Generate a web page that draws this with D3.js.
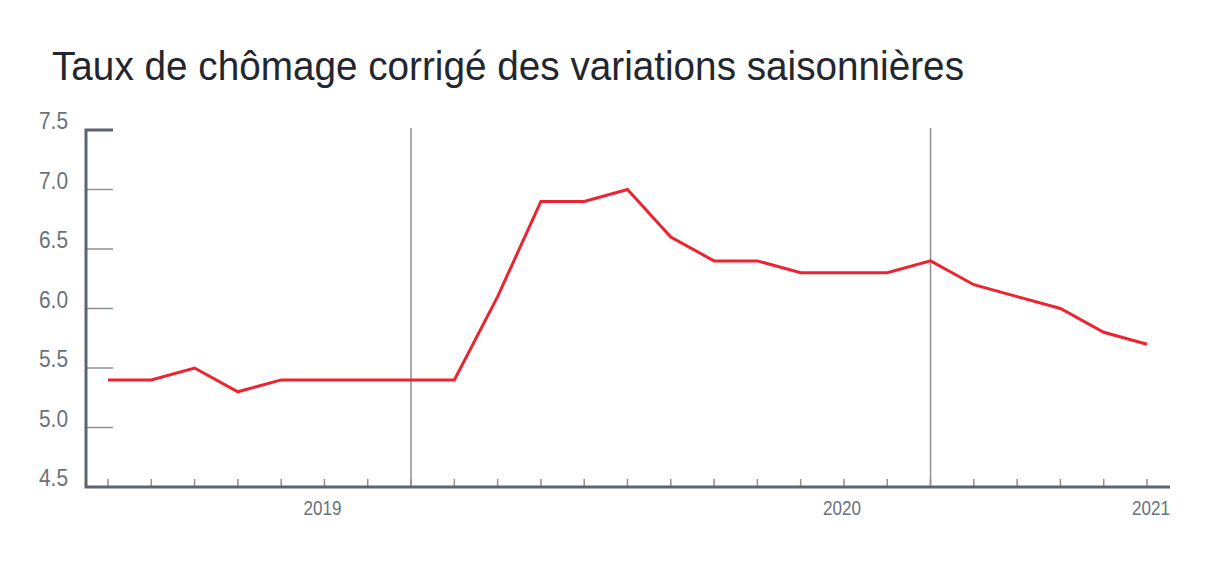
<!DOCTYPE html>
<html>
<head>
<meta charset="utf-8">
<script src="https://cdn.jsdelivr.net/npm/d3@7"></script>
<style>
    body { margin: 0; background: #fff; }
    svg { display: block; font-family: "Liberation Sans", Arial, sans-serif; }
</style>
</head>
<body>
<svg id="chart" width="1224" height="576"></svg>
<script>
// Data (monthly, seasonally adjusted rate)
const periods = d3.range(25).map(i => `p${i}`);
const rates = [5.4, 5.4, 5.5, 5.3, 5.4, 5.4, 5.4, 5.4, 5.4, 6.1, 6.9, 6.9, 7.0,
               6.6, 6.4, 6.4, 6.3, 6.3, 6.3, 6.4, 6.2, 6.1, 6.0, 5.8, 5.7];
const periodLabels = ['', '', '', '', '', '2019', '', '', '', '', '', '', '',
                      '', '', '', '', '2020', '', '', '', '', '', '', '2021'];
const separators = ['p7', 'p19'];
const yTicks = [4.5, 5.0, 5.5, 6.0, 6.5, 7.0, 7.5];
const title = 'Taux de chômage corrigé des variations saisonnières';

const svg = d3.select('#chart');

const axisLeftX = 86;
const axisRightX = 1170;
const axisBottomY = 487;

const x = d3.scalePoint().domain(periods).range([108, 1147]);
const y = d3.scaleLinear().domain([4.5, 7.5]).range([axisBottomY, 130]);

// Title (slightly condensed like the source)
svg.append('text')
    .attr('x', 52)
    .attr('y', 80)
    .attr('font-size', 41)
    .attr('fill', '#23262e')
    .attr('textLength', 912)
    .attr('lengthAdjust', 'spacingAndGlyphs')
    .text(title);

// Y tick marks (inner, short)
svg.append('g')
    .selectAll('line')
    .data(yTicks.filter(d => d > 4.5 && d < 7.5))
    .enter()
    .append('line')
    .attr('x1', axisLeftX)
    .attr('x2', axisLeftX + 27)
    .attr('y1', d => y(d))
    .attr('y2', d => y(d))
    .attr('stroke', '#8c9299')
    .attr('stroke-width', 1.5);

// Y labels
svg.append('g')
    .selectAll('text')
    .data(yTicks)
    .enter()
    .append('text')
    .attr('x', 68)
    .attr('y', d => y(d) - 1)
    .attr('text-anchor', 'end')
    .attr('font-size', 23.5)
    .attr('textLength', 29)
    .attr('lengthAdjust', 'spacingAndGlyphs')
    .attr('fill', '#6a727c')
    .text(d => d.toFixed(1));

// Separator lines
svg.append('g')
    .selectAll('line')
    .data(separators)
    .enter()
    .append('line')
    .attr('x1', d => x(d))
    .attr('x2', d => x(d))
    .attr('y1', 128)
    .attr('y2', axisBottomY)
    .attr('stroke', '#8c9197')
    .attr('stroke-width', 1.5);

// X tick marks
svg.append('g')
    .selectAll('line')
    .data(periods)
    .enter()
    .append('line')
    .attr('x1', d => x(d))
    .attr('x2', d => x(d))
    .attr('y1', axisBottomY - 8)
    .attr('y2', axisBottomY)
    .attr('stroke', '#8c9299')
    .attr('stroke-width', 1.5);

// X labels
svg.append('g')
    .selectAll('text')
    .data(periods.filter((p, i) => periodLabels[i]))
    .enter()
    .append('text')
    .attr('x', d => {
        const i = periods.indexOf(d);
        return i === periods.length - 1 ? axisRightX : x(d) - 2;
    })
    .attr('y', 515)
    .attr('text-anchor', d => periods.indexOf(d) === periods.length - 1 ? 'end' : 'middle')
    .attr('font-size', 20)
    .attr('textLength', 38)
    .attr('lengthAdjust', 'spacingAndGlyphs')
    .attr('fill', '#6a727c')
    .text(d => periodLabels[periods.indexOf(d)]);

// Axis frame: left axis with top cap, bottom axis
svg.append('path')
    .attr('d', `M${axisLeftX + 27},130 H${axisLeftX} V${axisBottomY} H${axisRightX}`)
    .attr('fill', 'none')
    .attr('stroke', '#5e656c')
    .attr('stroke-width', 3);

// Rate line
const line = d3.line()
    .x((d, i) => x(periods[i]))
    .y(d => y(d));

svg.append('path')
    .datum(rates)
    .attr('d', line)
    .attr('fill', 'none')
    .attr('stroke', '#ec2330')
    .attr('stroke-width', 3);
</script>
</body>
</html>
